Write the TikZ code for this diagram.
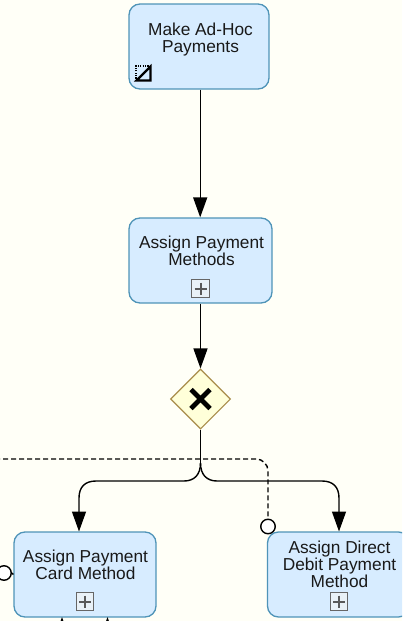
\documentclass[tikz,border=0pt]{standalone}
\usepackage{fontspec}
\setmainfont{Liberation Sans}
\usetikzlibrary{arrows.meta,shapes.geometric,calc}
\definecolor{bgc}{HTML}{FFFFF7}
\definecolor{taskfill}{HTML}{D7ECFF}
\definecolor{taskline}{HTML}{4F94B8}
\definecolor{gwfill}{HTML}{FFFFD9}
\definecolor{gwline}{HTML}{A98D4B}
\definecolor{plusfill}{HTML}{E9F1F7}
\tikzset{
 x=1pt,y=-1pt,
 taskbox/.style={draw=taskline,fill=taskfill,line width=1.3pt,rounded corners=11pt,minimum height=85pt,inner sep=0pt},
 tasktext/.style={font=\fontsize{17.3}{17}\selectfont,align=center,inner sep=0pt,text=black!90},
 flow/.style={draw=black,line width=1.4pt,-{Triangle[length=20pt,width=14pt]}},
 flowplain/.style={draw=black,line width=1.4pt},
 assoc/.style={draw=black,line width=1.4pt,dash pattern=on 5pt off 3pt},
 ring/.style={circle,draw=black,fill=white,line width=1.4pt,minimum size=14.5pt,inner sep=0pt},
 plusbox/.style={draw=black!60,fill=plusfill,line width=.8pt,minimum size=17.5pt,inner sep=0pt},
 gate/.style={diamond,draw=gwline,fill=gwfill,line width=1.1pt,minimum size=60pt,inner sep=0pt,aspect=1},
}
\newcommand{\plusmark}[1]{\draw[black!65,line width=2pt] ($(#1)+(-6,0)$)--($(#1)+(6,0)$) ($(#1)+(0,-6)$)--($(#1)+(0,6)$);}
\begin{document}
\begin{tikzpicture}
\useasboundingbox (0,0) rectangle (402,621);
\clip (0,0) rectangle (402,621);
\fill[bgc] (0,0) rectangle (402,621);
% off-page ends
\coordinate (assocstart) at (-5,459);
\coordinate (upA) at (62,650);
\coordinate (upB) at (107.5,650);
% shapes
\node[taskbox,minimum width=140pt] (adhoc) at (199,46.5) {};
\node[taskbox,minimum width=143pt] (assign) at (200.5,260.5) {};
\node[gate] (gw) at (200.5,399) {};
\node[taskbox,minimum width=142pt] (card) at (85,574.5) {};
\node[taskbox,minimum width=142pt] (debit) at (338.5,574.5) {};
% flows
\draw[flow] ($(adhoc.south)+(1.2,0)$) -- ($(assign.north)+(-.3,0)$);
\draw[flow] (assign.south) -- (gw.north);
\draw[flowplain] (gw.south) -- (200.5,463);
\draw[flow] (200.5,463) .. controls (200.5,475) and (194,481) .. (184,481) -- (96,481) .. controls (85,481) and (79,487) .. (79,498) -- (79,531.5);
\draw[flow] (200.5,463) .. controls (200.5,475) and (207,481) .. (217,481) -- (322,481) .. controls (333,481) and (339,487) .. (339,498) -- (339,531.5);
% association
\node[ring] (ringD) at (268,526.5) {};
\node[ring] (ringC) at (4,573) {};
\draw[assoc,rounded corners=12pt] (assocstart) -- (268,459) -- (ringD.north);
\draw[black,line width=1.4pt] (ringC.east) -- (card.west);
% bottom arrows
\draw[flow] (upA) -- (62,617);
\draw[flow] (upB) -- (107.5,617);
% texts
\node[tasktext] (t1) at (200.5,40) {Make Ad-Hoc\\Payments};
\node[tasktext] (t2) at (201.5,251) {Assign Payment\\Methods};
\node[tasktext] (t3) at (85.5,565) {Assign Payment\\Card Method};
\node[tasktext] (t4) at (339.5,564.5) {Assign Direct\\Debit Payment\\Method};
% plus markers
\node[plusbox] (p2) at (200.5,288.5) {}; \plusmark{p2}
\node[plusbox] (p3) at (85,601.5) {}; \plusmark{p3}
\node[plusbox] (p4) at (339,601.5) {}; \plusmark{p4}
% ad-hoc marker
\draw[black,line width=2.2pt,line join=miter] (136.5,80.5) -- (150.5,66.5) -- (150.5,80.5) -- cycle;
\draw[black,line width=1.4pt,dash pattern=on 1.2pt off 1.2pt] (136,81) -- (136,66) -- (151,66);
% gateway X
\draw[black,line width=4.8pt] (191,389.5) -- (210,408.5) (210,389.5) -- (191,408.5);
\end{tikzpicture}
\end{document}
